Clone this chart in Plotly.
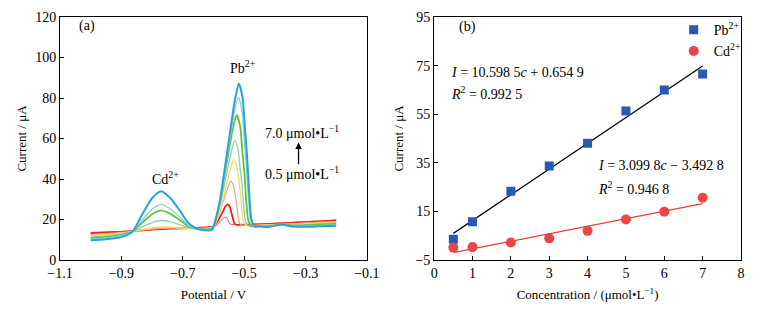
import plotly.graph_objects as go

# ---------------- Panel (a): stripping voltammograms ----------------
CONC_LABELS = ["0.5", "1", "2", "3", "4", "5", "6", "7"]  # μmol/L
CURVE_COLORS = ["#E0504C", "#E8231F", "#F6A27C", "#F3DC64", "#8DD3A4", "#6CBD45", "#84D3D6", "#28A3DD"]
CURVE_WIDTHS = [1.0, 1.8, 1.2, 1.3, 1.3, 1.8, 1.3, 2.0]

# common potentials: baseline + Cd2+ region
POT_CD = [-1.0, -0.95, -0.9, -0.865, -0.83, -0.80, -0.77, -0.74, -0.71, -0.68, -0.65, -0.62]
CUR_CD = [
    [13.6, 13.9, 14.1, 14.3, 14.7, 15.0, 15.3, 15.5, 15.7, 15.9, 16.1, 16.3],
    [13.2, 13.5, 13.9, 14.2, 14.7, 15.0, 15.3, 15.5, 15.6, 15.7, 15.9, 16.1],
    [12.6, 13.0, 13.6, 14.1, 14.7, 15.2, 15.6, 15.7, 15.7, 15.6, 15.7, 15.9],
    [12.0, 12.5, 13.2, 14.0, 15.0, 15.8, 16.3, 16.2, 15.9, 15.5, 15.5, 15.6],
    [11.3, 11.9, 12.8, 14.0, 16.5, 18.5, 19.5, 18.8, 17.4, 15.9, 15.3, 15.3],
    [10.8, 11.4, 12.4, 13.9, 18.7, 22.6, 24.5, 22.8, 19.8, 16.6, 15.4, 15.1],
    [10.3, 10.9, 12.0, 13.9, 20.1, 25.1, 27.5, 25.2, 21.3, 17.0, 15.3, 14.9],
    [9.8, 10.3, 11.3, 13.8, 23.1, 30.5, 34.0, 30.5, 24.5, 18.0, 15.3, 14.6],
]

# Pb2+ region (read separately for each curve)
POT_PB = [
    [-0.597, -0.592, -0.586, -0.580, -0.573, -0.567, -0.562, -0.557, -0.554, -0.551, -0.548, -0.546, -0.541],
    [-0.602, -0.596, -0.587, -0.578, -0.569, -0.561, -0.554, -0.547, -0.543, -0.539, -0.535, -0.531, -0.525],
    [-0.602, -0.595, -0.584, -0.573, -0.562, -0.551, -0.543, -0.535, -0.529, -0.524, -0.520, -0.515, -0.508],
    [-0.601, -0.592, -0.580, -0.567, -0.555, -0.542, -0.533, -0.524, -0.517, -0.511, -0.507, -0.501, -0.492],
    [-0.604, -0.595, -0.581, -0.567, -0.554, -0.540, -0.530, -0.520, -0.513, -0.506, -0.501, -0.495, -0.486],
    [-0.604, -0.594, -0.579, -0.565, -0.550, -0.535, -0.524, -0.513, -0.506, -0.498, -0.493, -0.486, -0.476],
    [-0.603, -0.593, -0.577, -0.562, -0.546, -0.531, -0.519, -0.507, -0.500, -0.492, -0.486, -0.479, -0.469],
    [-0.604, -0.593, -0.577, -0.561, -0.545, -0.529, -0.517, -0.505, -0.497, -0.489, -0.483, -0.476, -0.465],
]
CUR_PB = [
    [16.6, 16.9, 17.6, 18.7, 19.7, 20.7, 21.2, 20.8, 20.1, 19.2, 18.4, 17.8, 17.6],
    [16.4, 17.2, 18.9, 21.4, 24.0, 26.4, 27.5, 26.5, 24.3, 22.0, 19.6, 17.9, 17.4],
    [16.2, 17.8, 21.3, 26.5, 31.7, 36.7, 39.0, 36.8, 32.0, 27.0, 22.0, 18.3, 17.2],
    [15.9, 18.3, 23.5, 31.1, 38.8, 46.2, 49.6, 46.3, 39.2, 31.7, 24.2, 18.6, 17.0],
    [15.6, 18.6, 25.4, 35.1, 45.1, 54.7, 59.0, 54.8, 45.5, 35.8, 26.1, 18.9, 16.8],
    [15.4, 19.3, 28.1, 40.7, 53.6, 66.0, 71.6, 66.1, 54.0, 41.4, 28.7, 19.4, 16.7],
    [15.2, 19.8, 29.9, 44.5, 59.5, 73.9, 80.4, 74.0, 60.0, 45.3, 30.6, 19.7, 16.6],
    [14.9, 20.0, 31.2, 47.4, 64.0, 79.9, 87.1, 80.0, 64.5, 48.2, 32.0, 20.0, 16.5],
]

# common tail potentials
POT_TAIL = [-0.45, -0.42, -0.38, -0.34, -0.30, -0.25, -0.20]
CUR_TAIL = [
    [17.8, 18.0, 18.3, 18.6, 18.9, 19.3, 19.7],
    [17.6, 17.8, 18.1, 18.4, 18.7, 19.1, 19.5],
    [17.4, 17.5, 17.8, 18.0, 18.3, 18.7, 19.0],
    [17.1, 17.2, 17.5, 17.7, 17.9, 18.3, 18.6],
    [16.9, 16.9, 17.3, 17.3, 17.5, 17.9, 18.2],
    [16.7, 16.6, 17.3, 17.0, 17.1, 17.5, 17.8],
    [16.6, 16.4, 17.4, 16.7, 16.7, 17.1, 17.4],
    [16.6, 16.3, 17.5, 16.5, 16.4, 16.7, 16.9],
]

# ---------------- Panel (b): calibration ----------------
CONC = [0.5, 1, 2, 3, 4, 5, 6, 7]
PB_CURRENT = [3.5, 10.7, 23.3, 33.7, 43.0, 56.3, 65.0, 71.5]
CD_CURRENT = [0.1, 0.3, 2.2, 3.9, 7.0, 11.7, 14.9, 20.6]
PB_FIT = [10.5985, 0.6549]   # slope, intercept
CD_FIT = [3.0998, -3.4928]

FONT = "Liberation Serif, Times New Roman, serif"

fig = go.Figure()

for i in range(len(CONC_LABELS)):
    xs = POT_CD + POT_PB[i] + POT_TAIL
    ys = CUR_CD[i] + CUR_PB[i] + CUR_TAIL[i]
    fig.add_trace(go.Scatter(
        x=xs, y=ys, mode="lines", name=CONC_LABELS[i] + " μmol/L",
        line=dict(color=CURVE_COLORS[i], width=CURVE_WIDTHS[i], shape="spline", smoothing=0.7),
        showlegend=False, xaxis="x", yaxis="y", hoverinfo="skip"))

fit_x = [min(CONC), max(CONC)]
fig.add_trace(go.Scatter(
    x=fit_x, y=[PB_FIT[0] * c + PB_FIT[1] for c in fit_x], mode="lines",
    line=dict(color="black", width=1.3), showlegend=False, xaxis="x2", yaxis="y2"))
fig.add_trace(go.Scatter(
    x=fit_x, y=[CD_FIT[0] * c + CD_FIT[1] for c in fit_x], mode="lines",
    line=dict(color="#F03A30", width=1.3), showlegend=False, xaxis="x2", yaxis="y2"))
fig.add_trace(go.Scatter(
    x=CONC, y=PB_CURRENT, mode="markers", name="Pb<sup>2+</sup>",
    marker=dict(symbol="square", size=9, color="#2A59B4"), xaxis="x2", yaxis="y2"))
fig.add_trace(go.Scatter(
    x=CONC, y=CD_CURRENT, mode="markers", name="Cd<sup>2+</sup>",
    marker=dict(symbol="circle", size=10, color="#E8474A"), xaxis="x2", yaxis="y2"))

axis_common = dict(
    showline=True, linecolor="black", linewidth=1, mirror=True,
    ticks="inside", ticklen=4, tickcolor="black", tickwidth=1,
    showgrid=False, zeroline=False,
    tickfont=dict(family=FONT, size=14, color="black"),
)

W, H = 764, 312
ML, MR, MT, MB = 60, 16, 10, 52
PW = W - ML - MR

fig.update_layout(
    width=W, height=H,
    margin=dict(l=ML, r=MR, t=MT, b=MB),
    paper_bgcolor="white", plot_bgcolor="white",
    font=dict(family=FONT, size=14, color="black"),
    xaxis=dict(axis_common, domain=[0, 310 / PW], range=[-1.1, -0.1], tick0=-1.1, dtick=0.2,
               tickformat=".1f",
               title=dict(text="Potential / V", font=dict(family=FONT, size=13), standoff=10)),
    yaxis=dict(axis_common, domain=[0, 1], range=[0, 120], dtick=20,
               title=dict(text="Current / μA", font=dict(family=FONT, size=13), standoff=5)),
    xaxis2=dict(axis_common, domain=[(438 - ML) / PW, 1], range=[0, 8], dtick=1, anchor="y2",
                title=dict(text="Concentration / (μmol•L<sup>−1</sup>)", font=dict(family=FONT, size=13), standoff=10)),
    yaxis2=dict(axis_common, domain=[0, 1], range=[-5, 95], tick0=-5, dtick=20, anchor="x2",
                title=dict(text="Current / μA", font=dict(family=FONT, size=13), standoff=8)),
    legend=dict(x=(680 - ML) / PW, y=1.012, xanchor="left", yanchor="top",
                bgcolor="rgba(0,0,0,0)", font=dict(family=FONT, size=14),
                itemwidth=30, tracegroupgap=0),
    showlegend=True,
)

ann = [
    dict(x=-1.045, y=115.5, xref="x", yref="y", text="(a)", showarrow=False, xanchor="left"),
    dict(x=-0.755, y=40.5, xref="x", yref="y", text="Cd<sup>2+</sup>", showarrow=False),
    dict(x=-0.505, y=95.5, xref="x", yref="y", text="Pb<sup>2+</sup>", showarrow=False),
    dict(x=-0.31, y=63.0, xref="x", yref="y", text="7.0 μmol•L<sup>−1</sup>", showarrow=False),
    dict(x=-0.31, y=42.8, xref="x", yref="y", text="0.5 μmol•L<sup>−1</sup>", showarrow=False),
    dict(x=-0.3226, y=58, xref="x", yref="y", ax=-0.3226, ay=46.5, axref="x", ayref="y",
         text="", showarrow=True, arrowhead=2, arrowsize=1, arrowwidth=1.3, arrowcolor="black"),
    dict(x=0.59, y=91, xref="x2", yref="y2", text="(b)", showarrow=False, xanchor="left"),
    dict(x=0.38, y=72.3, xref="x2", yref="y2", text="<i>I</i> = 10.598 5<i>c</i> + 0.654 9",
         showarrow=False, xanchor="left"),
    dict(x=0.38, y=63.8, xref="x2", yref="y2", text="<i>R</i><sup>2</sup> = 0.992 5",
         showarrow=False, xanchor="left"),
    dict(x=4.23, y=33.8, xref="x2", yref="y2", text="<i>I</i> = 3.099 8<i>c</i> − 3.492 8",
         showarrow=False, xanchor="left"),
    dict(x=4.23, y=24.8, xref="x2", yref="y2", text="<i>R</i><sup>2</sup> = 0.946 8",
         showarrow=False, xanchor="left"),
]
for a in ann:
    a.setdefault("font", dict(family=FONT, size=14, color="black"))
fig.update_layout(annotations=ann)

fig.write_html("out.html", config={"displayModeBar": False},
               post_script="document.body.style.margin='0px';")
